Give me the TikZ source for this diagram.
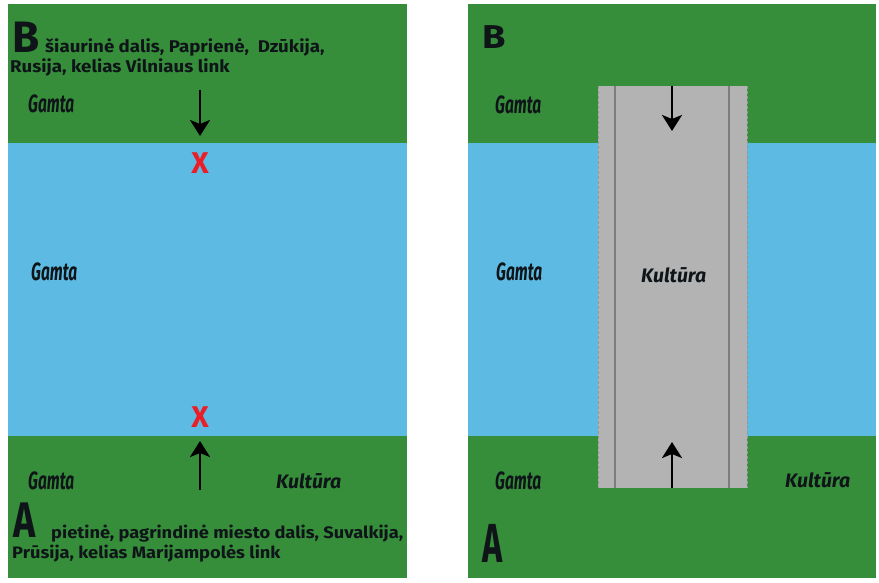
\documentclass[tikz,border=0pt]{standalone}
\usepackage{fontspec}
\setmainfont{Fira Sans}
\newfontfamily\condfont{Fira Sans}[FakeStretch=0.62]
\newfontfamily\condAfont{Fira Sans}[FakeStretch=0.75]
\newfontfamily\widefont{Fira Sans}[FakeStretch=1.1]
\newfontfamily\wideBfont{Fira Sans}[FakeStretch=1.15]
\usetikzlibrary{arrows.meta}
\definecolor{grass}{RGB}{54,142,58}
\definecolor{water}{RGB}{93,187,227}
\definecolor{roadgray}{RGB}{179,179,179}
\definecolor{roadline}{RGB}{125,125,125}
\definecolor{xred}{RGB}{235,30,40}
\definecolor{ink}{RGB}{15,20,25}
\tikzset{
  lbl/.style={anchor=base west, inner sep=0pt, text=ink},
  gamta/.style={lbl, font=\condfont\bfseries\itshape\fontsize{25}{25}\selectfont},
  kult/.style={lbl, font=\bfseries\itshape\fontsize{19.5}{19.5}\selectfont},
  body/.style={lbl, font=\widefont\bfseries\fontsize{17}{18}\selectfont},
  bodysm/.style={lbl, font=\widefont\bfseries\fontsize{16.6}{18}\selectfont},
  bigB/.style={lbl, font=\bfseries\fontsize{44}{44}\selectfont},
  bigA/.style={lbl, font=\condAfont\bfseries\fontsize{50}{50}\selectfont},
  xmark/.style={anchor=center, inner sep=0pt, text=xred, font=\bfseries\fontsize{30}{30}\selectfont},
  arr/.style={draw=black, line width=2.8pt, -{Stealth[length=16pt,width=20pt,inset=4pt]}},
  roadedge/.style={draw=roadline!80, line width=1pt, dashed, dash pattern=on 3pt off 2pt},
  roadlane/.style={draw=roadline, line width=1.2pt},
}
\begin{document}
\begin{tikzpicture}[x=1pt,y=-1pt]
\useasboundingbox (0,0) rectangle (879,583);
\fill[white] (0,0) rectangle (879,583);
% ---------- left panel ----------
\fill[grass] (8,4) rectangle (407,143);
\fill[water] (8,143) rectangle (407,436);
\fill[grass] (8,436) rectangle (407,578);
\node[bigB] (LB) at (12,53) {B};
\node[body] (Lt1) at (45,53) {šiaurinė dalis, Paprienė,\ \ Dzūkija,};
\node[body] (Lt2) at (10,73) {Rusija, kelias Vilniaus link};
\node[gamta] (Lg1) at (28,113) {Gamta};
\node[gamta] (Lg2) at (31,280) {Gamta};
\node[gamta] (Lg3) at (28,489) {Gamta};
\node[kult] (Lk) at (276,488) {Kultūra};
\node[bigA] (LA) at (13,537) {A};
\node[bodysm] (Lb1) at (51,538) {pietinė, pagrindinė miesto dalis, Suvalkija,};
\node[bodysm] (Lb2) at (12,558) {Prūsija, kelias Marijampolės link};
\node[xmark] (X1) at (200,163) {X};
\node[xmark] (X2) at (200,417) {X};
\coordinate (La1s) at (200,90);
\coordinate (La1e) at (200,136);
\coordinate (La2s) at (200,490);
\coordinate (La2e) at (200,441);
\draw[arr] (La1s) -- (La1e);
\draw[arr] (La2s) -- (La2e);
% ---------- right panel ----------
\fill[grass] (468,4) rectangle (876,143);
\fill[water] (468,143) rectangle (876,436);
\fill[grass] (468,436) rectangle (876,578);
\fill[roadgray] (598,86) rectangle (747,488);
\coordinate (Rl1) at (598,86); \coordinate (Rl2) at (598,488);
\coordinate (Rr1) at (747,86); \coordinate (Rr2) at (747,488);
\coordinate (Li1) at (615,86); \coordinate (Li2) at (615,488);
\coordinate (Ri1) at (729,86); \coordinate (Ri2) at (729,488);
\draw[roadedge] (Rl1) -- (Rl2);
\draw[roadedge] (Rr1) -- (Rr2);
\draw[roadlane] (Li1) -- (Li2);
\draw[roadlane] (Ri1) -- (Ri2);
\node[lbl, font=\wideBfont\bfseries\fontsize{33}{33}\selectfont] (RB) at (482,49) {B};
\node[gamta] (Rg1) at (495,114) {Gamta};
\node[gamta] (Rg2) at (496,280) {Gamta};
\node[gamta] (Rg3) at (495,489) {Gamta};
\node[kult] (Rk1) at (641,282) {Kultūra};
\node[kult] (Rk2) at (785,487) {Kultūra};
\node[lbl, font=\condfont\bfseries\fontsize{55}{55}\selectfont] (RA) at (482,562) {A};
\coordinate (Ra1s) at (672,86);
\coordinate (Ra1e) at (672,131);
\coordinate (Ra2s) at (672,488);
\coordinate (Ra2e) at (672,442);
\draw[arr] (Ra1s) -- (Ra1e);
\draw[arr] (Ra2s) -- (Ra2e);
\end{tikzpicture}
\end{document}
